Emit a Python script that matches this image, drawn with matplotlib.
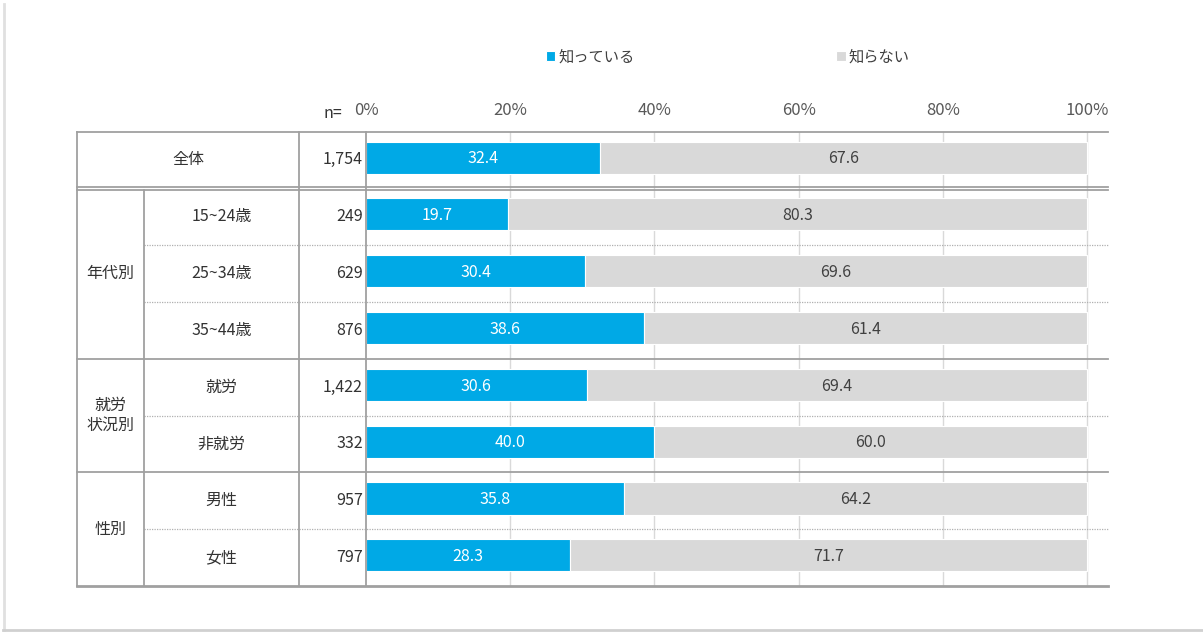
import matplotlib
matplotlib.use("Agg")
import matplotlib.pyplot as plt

plt.rcParams['font.family'] = ['Noto Sans CJK JP', 'DejaVu Sans']

# data
rows = ['全体', '15~24歳', '25~34歳', '35~44歳', '就労', '非就労', '男性', '女性']
n_counts = [1754, 249, 629, 876, 1422, 332, 957, 797]
know = [32.4, 19.7, 30.4, 38.6, 30.6, 40.0, 35.8, 28.3]
not_know = [67.6, 80.3, 69.6, 61.4, 69.4, 60.0, 64.2, 71.7]
series_names = ['知っている', '知らない']
groups = [('年代別', 1, 4), ('就労\n状況別', 4, 6), ('性別', 6, 8)]
ticks = [0, 20, 40, 60, 80, 100]

BLUE = '#00A9E6'
GREY = '#D9D9D9'
LINE = '#A0A0A0'
TXT = '#333333'
FS = 11.5

W, H = 1203, 632
fig = plt.figure(figsize=(W / 100, H / 100), dpi=100)

# table geometry in pixels
x_left, x_c1, x_c2, x_axis, x_right = 77, 144, 299, 366, 1108
y_top, y_bot = 131.5, 586
x100 = 1087

ax = fig.add_axes([x_axis / W, 1 - y_bot / H, (x_right - x_axis) / W, (y_bot - y_top) / H])
ax.set_xlim(0, 100 * (x_right - x_axis) / (x100 - x_axis))
ax.set_ylim(len(rows), 0)

def px(x):
    # figure pixel -> axes fraction (x direction)
    return (x - x_axis) / (x_right - x_axis)

tr = ax.get_yaxis_transform()

# bars
centers = [i + 0.46 for i in range(len(rows))]
h = 0.565
b1 = ax.barh(centers, know, height=h, color=BLUE, edgecolor='white', linewidth=0.8,
             label=series_names[0], zorder=3)
b2 = ax.barh(centers, not_know, left=know, height=h, color=GREY, edgecolor='white',
             linewidth=0.8, label=series_names[1], zorder=3)

for c, k, nk in zip(centers, know, not_know):
    ax.text(k / 2, c + 0.02, f'{k:.1f}', ha='center', va='center', color='white', fontsize=11.5, zorder=4)
    ax.text(k + nk / 2, c + 0.02, f'{nk:.1f}', ha='center', va='center', color='#404040', fontsize=11.5, zorder=4)

# grid & ticks
for t in ticks[1:]:
    ax.axvline(t, color='#D9D9D9', lw=1, zorder=1)
ax.set_xticks(ticks)
ax.set_xticklabels([f'{t}%' for t in ticks])
ax.xaxis.tick_top()
ax.tick_params(axis='x', length=0, pad=9, labelsize=12, labelcolor='#595959')
ax.set_yticks([])
for s in ax.spines.values():
    s.set_visible(False)

fig.text(333 / W, 1 - 113 / H, 'n=', ha='center', va='center', fontsize=FS, color=TXT)

# table lines
def hline(y, x0, x1, **kw):
    ax.plot([px(x0), px(x1)], [y, y], transform=tr, clip_on=False, **kw)

def vline(x, y0, y1, **kw):
    ax.plot([px(x), px(x)], [y0, y1], transform=tr, clip_on=False, **kw)

solid = dict(color=LINE, lw=1.3, zorder=5)
hline(0, x_left, x_right, **solid)
hline(1 - 0.025, x_left, x_right, **solid)
hline(1 + 0.025, x_left, x_right, **solid)
for name, g0, g1 in groups:
    hline(g1, x_left, x_right, color=LINE, lw=2.0 if g1 == len(rows) else 1.3, zorder=5)
    for r in range(g0 + 1, g1):
        hline(r, x_c1, x_right, color='#B0B0B0', lw=0.9, ls=(0, (1, 1)), zorder=5)
vline(x_left, 0, len(rows), **solid)
vline(x_c1, 1.03, len(rows), **solid)
vline(x_c2, 0, len(rows), **solid)
vline(x_axis, 0, len(rows), **solid)

# table text
ax.text(px((x_left + x_c2) / 2), 0.5, rows[0], transform=tr, ha='center', va='center',
        fontsize=FS, color=TXT)
for i in range(1, len(rows)):
    ax.text(px((x_c1 + x_c2) / 2), i + 0.5, rows[i], transform=tr, ha='center', va='center',
            fontsize=FS, color=TXT)
for name, g0, g1 in groups:
    ax.text(px((x_left + x_c1) / 2), (g0 + g1) / 2, name, transform=tr, ha='center',
            va='center', fontsize=FS, color=TXT, linespacing=1.2)
for i, n in enumerate(n_counts):
    ax.text(px(363), i + 0.5, f'{n:,}', transform=tr, ha='right', va='center',
            fontsize=FS, color=TXT)

# legend
fig.legend(handles=[b1, b2], loc='center', bbox_to_anchor=(728 / W, 1 - 57 / H), ncol=2,
           frameon=False, handlelength=0.6, handleheight=0.6, handletextpad=0.2,
           columnspacing=13.2, fontsize=11, labelcolor='#404040')

# faint frame shadow
fig.add_artist(plt.Line2D([3.5 / W, 3.5 / W], [1 - 630 / H, 1 - 4 / H], color='#E0E0E0', lw=2))
fig.add_artist(plt.Line2D([3 / W, 1], [1 - 630 / H, 1 - 630 / H], color='#D0D0D0', lw=2))

fig.savefig('out.png', dpi=100, facecolor='white')
